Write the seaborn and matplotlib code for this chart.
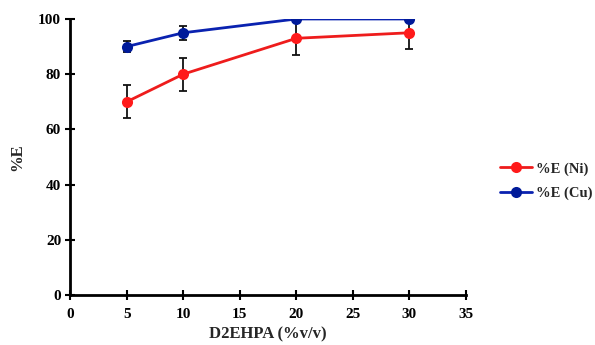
import numpy as np
import pandas as pd
import matplotlib
matplotlib.use("Agg")
import matplotlib.pyplot as plt
import seaborn as sns
from matplotlib.lines import Line2D

# Data
d2ehpa = [5, 10, 20, 30]
ni_values = [70, 80, 93, 95]
ni_err = [6, 6, 6, 6]
cu_values = [90, 95, 100, 100]
cu_err = [2, 2.5, 1, 1]
series_names = ["%E (Ni)", "%E (Cu)"]
x_ticks = [0, 5, 10, 15, 20, 25, 30, 35]
y_ticks = [0, 20, 40, 60, 80, 100]

df = pd.DataFrame({
    "x": d2ehpa * 2,
    "y": ni_values + cu_values,
    "series": [series_names[0]] * 4 + [series_names[1]] * 4,
})

sns.set_theme(style="ticks")
plt.rcParams["font.family"] = ["Liberation Serif", "DejaVu Serif"]
plt.rcParams["font.weight"] = "bold"

fig = plt.figure(figsize=(5.95, 3.45), dpi=100)
ax = fig.add_axes([0.118, 0.145, 0.665, 0.80])

colors = {series_names[0]: "#ee1c1c", series_names[1]: "#0a22b0"}
mcolors = {series_names[0]: "#ff1a1a", series_names[1]: "#001a99"}

# error bars
ax.errorbar(d2ehpa, ni_values, yerr=ni_err, fmt="none", ecolor="#111111",
            elinewidth=1.3, capsize=3, capthick=1.3, zorder=2)
ax.errorbar(d2ehpa, cu_values, yerr=cu_err, fmt="none", ecolor="#111111",
            elinewidth=1.3, capsize=3, capthick=1.3, zorder=2)

sns.lineplot(data=df, x="x", y="y", hue="series", palette=colors,
             marker="o", markersize=8, markeredgewidth=0, linewidth=2,
             ax=ax, legend=False, zorder=3)
for line, name in zip(ax.get_lines()[-2:], series_names):
    line.set_markerfacecolor(mcolors[name])

ax.set_xlim(0, 35)
ax.set_ylim(0, 100)
ax.set_xticks(x_ticks)
ax.set_yticks(y_ticks)
ax.tick_params(axis="both", direction="inout", length=7, width=1.5,
               labelsize=11, colors="black", pad=3)
ax.tick_params(axis="x", pad=6)
for lab in ax.get_xticklabels() + ax.get_yticklabels():
    lab.set_fontweight("bold")

for s in ["top", "right"]:
    ax.spines[s].set_visible(False)
for s in ["left", "bottom"]:
    ax.spines[s].set_linewidth(2)
    ax.spines[s].set_color("black")

ax.set_xlabel("D2EHPA (%v/v)", fontsize=12, fontweight="bold", labelpad=4)
ax.set_ylabel("%E", fontsize=12, fontweight="bold", labelpad=9)

handles = [Line2D([0], [0], color=colors[n], marker="o", markersize=8,
                  markerfacecolor=mcolors[n], markeredgewidth=0, linewidth=2)
           for n in series_names]
leg = fig.legend(handles, series_names, loc="center left",
                 bbox_to_anchor=(0.836, 0.475), frameon=False,
                 prop={"family": "Liberation Serif", "weight": "bold", "size": 10.5},
                 handlelength=2.2, handletextpad=0.25, labelspacing=0.75,
                 borderpad=0.1, borderaxespad=0.1)

fig.savefig("out.png", dpi=100)
